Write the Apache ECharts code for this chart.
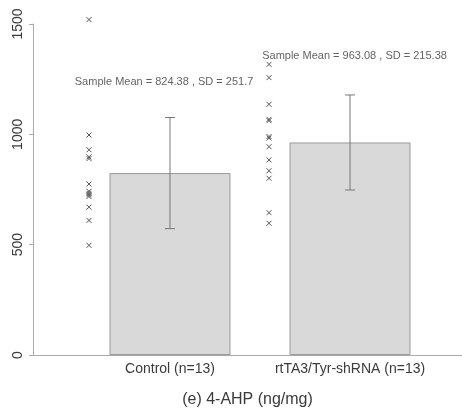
<!DOCTYPE html>
<html>
<head>
<meta charset="utf-8">
<script src="https://cdn.jsdelivr.net/npm/echarts@6/dist/echarts.min.js"></script>
<style>
  html, body {margin: 0; padding: 0; background: #fff;}
  #chart {width: 462px; height: 411px;}
</style>
</head>
<body>
<div id="chart"></div>
<script>
// groups and their summary values
const groups = ['Control (n=13)', 'rtTA3/Tyr-shRNA (n=13)']
const means = [824.38, 963.08]
const sds = [251.7, 215.38]
const notes = ['Sample Mean = 824.38 , SD = 251.7', 'Sample Mean = 963.08 , SD = 215.38']
// where the notes sit, in data units
const noteX = [0.967, 2.025]
const noteY = [1237, 1355]

// individual samples
const controlPts = [1520, 997, 930, 898, 890, 775, 742, 733, 726, 718, 670, 610, 497]
const shrnaPts = [1317, 1257, 1136, 1068, 1062, 990, 983, 944, 884, 835, 801, 645, 597]
const ptOffset = -0.45

const yTicks = [0, 500, 1000, 1500]

const chart = echarts.init(document.getElementById('chart'))

const barData = means.map((m, i) => [i + 1, m])
const errData = means.map((m, i) => [i + 1, m - sds[i], m + sds[i]])
const ptData = []
controlPts.forEach(v => ptData.push([1 + ptOffset, v]))
shrnaPts.forEach(v => ptData.push([2 + ptOffset, v]))
const noteData = notes.map((t, i) => ({value: [noteX[i], noteY[i]], name: t}))

const txt = '#3a3a3a'
const axisCol = '#aaa'

const option = {
  animation: false,
  grid: {left: 33, right: 0, top: 24, bottom: 56, outerBoundsMode: 'none', containLabel: false},
  xAxis: {
    type: 'value',
    min: 0.239,
    max: 2.622,
    splitLine: {show: false},
    axisLine: {show: true, lineStyle: {color: axisCol}},
    axisTick: {show: false},
    axisLabel: {
      customValues: [1, 2],
      formatter: v => groups[Math.round(v) - 1] || '',
      color: txt,
      fontSize: 14,
      fontFamily: 'Liberation Sans',
      margin: 7
    },
    name: '(e) 4-AHP (ng/mg)',
    nameLocation: 'middle',
    nameGap: 37,
    nameTextStyle: {color: txt, fontSize: 16, fontFamily: 'Liberation Sans'}
  },
  yAxis: {
    type: 'value',
    min: 0,
    max: 1500,
    interval: 500,
    splitLine: {show: false},
    axisLine: {show: true, lineStyle: {color: axisCol}},
    axisTick: {show: true, length: 4, lineStyle: {color: axisCol}},
    axisLabel: {
      rotate: 90,
      color: txt,
      fontSize: 14,
      fontFamily: 'Liberation Sans',
      margin: 8,
      formatter: v => yTicks.indexOf(v) >= 0 ? String(v) : ''
    }
  },
  series: [
    {
      type: 'bar',
      data: barData,
      barWidth: 121,
      itemStyle: {color: '#d9d9d9', borderColor: '#9a9a9a', borderWidth: 1}
    },
    {
      type: 'custom',
      data: errData,
      z: 5,
      renderItem: function (params, api) {
        const x = api.value(0)
        const lo = api.coord([x, api.value(1)])
        const hi = api.coord([x, api.value(2)])
        const w = 5
        const st = {stroke: '#777', lineWidth: 1}
        return {
          type: 'group',
          children: [
            {type: 'line', shape: {x1: lo[0], y1: lo[1], x2: hi[0], y2: hi[1]}, style: st},
            {type: 'line', shape: {x1: lo[0] - w, y1: lo[1], x2: lo[0] + w, y2: lo[1]}, style: st},
            {type: 'line', shape: {x1: hi[0] - w, y1: hi[1], x2: hi[0] + w, y2: hi[1]}, style: st}
          ]
        }
      }
    },
    {
      type: 'scatter',
      data: ptData,
      clip: false,
      symbol: 'path://M0,0L10,10M10,0L0,10',
      symbolSize: 5,
      itemStyle: {color: 'transparent', borderColor: '#555', borderWidth: 1, opacity: 1}
    },
    {
      type: 'scatter',
      data: noteData,
      clip: false,
      symbolSize: 0,
      label: {
        show: true,
        position: 'inside',
        formatter: p => p.name,
        color: txt,
        fontSize: 11,
        fontFamily: 'Liberation Sans'
      }
    }
  ]
}
chart.setOption(option)
</script>
</body>
</html>
